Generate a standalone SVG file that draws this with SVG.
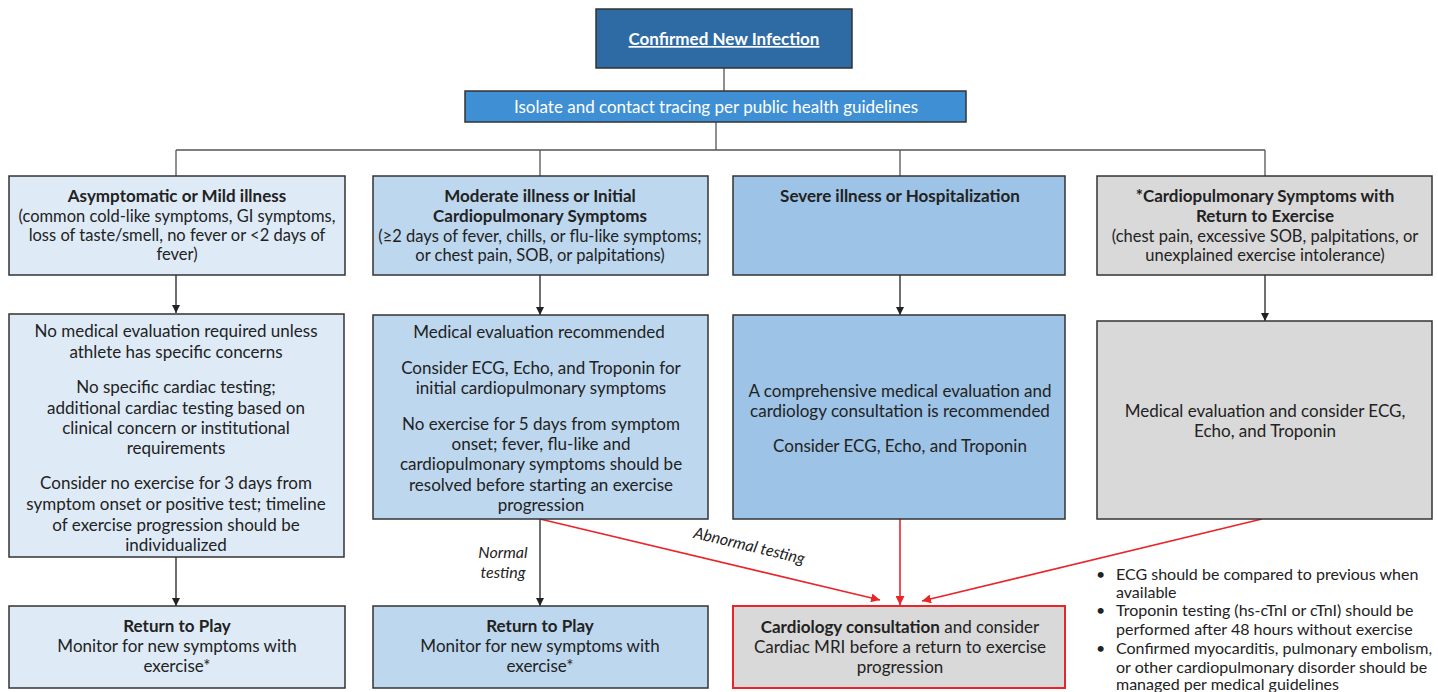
<svg xmlns="http://www.w3.org/2000/svg" width="1438" height="692" viewBox="0 0 1438 692">
<defs>
<marker id="ab" viewBox="0 0 10 10" refX="10" refY="5" markerWidth="8" markerHeight="8" markerUnits="userSpaceOnUse" orient="auto"><path d="M0,0 L10,5 L0,10 z" fill="#222"/></marker>
<marker id="ar" viewBox="0 0 10 10" refX="10" refY="5" markerWidth="9" markerHeight="9" markerUnits="userSpaceOnUse" orient="auto"><path d="M0,0 L10,5 L0,10 z" fill="#e8262a"/></marker>
</defs>
<style>
text{font-family:Lato,"Liberation Sans",sans-serif;fill:#222;font-size:17px;text-anchor:middle}
.b{font-weight:bold}
.s{font-size:16.5px}
.box{stroke:#333;stroke-width:1.5}
.l1{fill:#deebf7}.l2{fill:#bdd7ee}.l3{fill:#9dc3e6}.g{fill:#d9d9d9}
.w{fill:#fff}
.bl{text-anchor:start;font-size:16px}
.conn{fill:none;stroke:#555;stroke-width:1.3}
.arr{fill:none;stroke:#222;stroke-width:1.3}
.red{fill:none;stroke:#e8262a;stroke-width:1.6}
.it{font-style:italic;font-size:16px}
</style>
<rect width="1438" height="692" fill="#fff"/>
<g id="connectors">
<path class="conn" d="M724,68 V91 M716,122 V150 M176,150 H1265 M176,150 V176 M540,150 V176 M900,150 V176 M1265,150 V176"/>
<path class="arr" marker-end="url(#ab)" d="M176,275 V313"/>
<path class="arr" marker-end="url(#ab)" d="M540,275 V315"/>
<path class="arr" marker-end="url(#ab)" d="M900,275 V315"/>
<path class="arr" marker-end="url(#ab)" d="M1265,275 V321"/>
<path class="arr" marker-end="url(#ab)" d="M176,557 V606"/>
<path class="arr" marker-end="url(#ab)" d="M540,519 V606"/>
<path class="red" marker-end="url(#ar)" d="M540,519 L880,600"/>
<path class="red" marker-end="url(#ar)" d="M900,519 V605"/>
<path class="red" marker-end="url(#ar)" d="M1262,519 L922,601"/>
<text class="it" x="503" y="558">Normal</text>
<text class="it" x="503" y="578">testing</text>
<text class="it" x="748" y="551" font-size="16.5" transform="rotate(13.4 748 551)">Abnormal testing</text>
</g>
<g id="top">
<rect class="box" x="596" y="9" width="256" height="59" fill="#2e6aa3"/>
<text class="b w" x="724" y="45" text-decoration="underline">Confirmed New Infection</text>
</g>
<g id="isolate">
<rect class="box" x="465" y="91" width="501" height="31" fill="#3f8fd4"/>
<text class="w" x="716" y="113">Isolate and contact tracing per public health guidelines</text>
</g>
<g id="mild">
<rect class="box l1" x="9" y="176" width="336" height="99"/>
<text class="b" x="177" y="202">Asymptomatic or Mild illness</text>
<text class="s" x="177" y="222">(common cold-like symptoms, GI symptoms,</text>
<text class="s" x="177" y="241">loss of taste/smell, no fever or &lt;2 days of</text>
<text class="s" x="177" y="260">fever)</text>
</g>
<g id="moderate">
<rect class="box l2" x="373" y="176" width="335" height="99"/>
<text class="b" x="540" y="202">Moderate illness or Initial</text>
<text class="b" x="540" y="222">Cardiopulmonary Symptoms</text>
<text class="s" x="540" y="242">(≥2 days of fever, chills, or flu-like symptoms;</text>
<text class="s" x="540" y="261">or chest pain, SOB, or palpitations)</text>
</g>
<g id="severe">
<rect class="box l3" x="733" y="176" width="332" height="99"/>
<text class="b" x="900" y="202">Severe illness or Hospitalization</text>
</g>
<g id="cardio">
<rect class="box g" x="1097" y="176" width="335" height="99"/>
<text class="b" x="1265" y="202">*Cardiopulmonary Symptoms with</text>
<text class="b" x="1265" y="222">Return to Exercise</text>
<text class="s" x="1265" y="242">(chest pain, excessive SOB, palpitations, or</text>
<text class="s" x="1265" y="261">unexplained exercise intolerance)</text>
</g>
<g id="mild-eval">
<rect class="box l1" x="9" y="314" width="335" height="243"/>
<text x="176" y="337">No medical evaluation required unless</text>
<text x="176" y="358">athlete has specific concerns</text>
<text x="176" y="393">No specific cardiac testing;</text>
<text x="176" y="414">additional cardiac testing based on</text>
<text x="176" y="434">clinical concern or institutional</text>
<text x="176" y="454">requirements</text>
<text x="176" y="489">Consider no exercise for 3 days from</text>
<text x="176" y="510">symptom onset or positive test; timeline</text>
<text x="176" y="531">of exercise progression should be</text>
<text x="176" y="551">individualized</text>
</g>
<g id="moderate-eval">
<rect class="box l2" x="373" y="315" width="335" height="204"/>
<text x="539" y="338">Medical evaluation recommended</text>
<text x="541" y="374">Consider ECG, Echo, and Troponin for</text>
<text x="541" y="394">initial cardiopulmonary symptoms</text>
<text x="541" y="430">No exercise for 5 days from symptom</text>
<text x="541" y="450">onset; fever, flu-like and</text>
<text x="541" y="470">cardiopulmonary symptoms should be</text>
<text x="541" y="491">resolved before starting an exercise</text>
<text x="541" y="511">progression</text>
</g>
<g id="severe-eval">
<rect class="box l3" x="733" y="315" width="332" height="204"/>
<text x="900" y="397">A comprehensive medical evaluation and</text>
<text x="900" y="417">cardiology consultation is recommended</text>
<text x="900" y="452">Consider ECG, Echo, and Troponin</text>
</g>
<g id="cardio-eval">
<rect class="box g" x="1097" y="321" width="335" height="198"/>
<text x="1265" y="417">Medical evaluation and consider ECG,</text>
<text x="1265" y="437">Echo, and Troponin</text>
</g>
<g id="rtp1">
<rect class="box l1" x="9" y="606" width="336" height="82"/>
<text class="b" x="177" y="632">Return to Play</text>
<text x="177" y="652">Monitor for new symptoms with</text>
<text x="177" y="672">exercise*</text>
</g>
<g id="rtp2">
<rect class="box l2" x="373" y="606" width="335" height="82"/>
<text class="b" x="540" y="632">Return to Play</text>
<text x="540" y="652">Monitor for new symptoms with</text>
<text x="540" y="672">exercise*</text>
</g>
<g id="consult">
<rect x="733" y="606" width="332" height="82" fill="#d9d9d9" stroke="#e8262a" stroke-width="2"/>
<text x="900" y="633"><tspan class="b">Cardiology consultation</tspan> and consider</text>
<text x="900" y="653">Cardiac MRI before a return to exercise</text>
<text x="900" y="673">progression</text>
</g>
<g id="notes">
<text class="bl" x="1096" y="580">•</text>
<text class="bl" x="1116" y="580">ECG should be compared to previous when</text>
<text class="bl" x="1116" y="598">available</text>
<text class="bl" x="1096" y="616">•</text>
<text class="bl" x="1116" y="616">Troponin testing (hs-cTnI or cTnI) should be</text>
<text class="bl" x="1116" y="635">performed after 48 hours without exercise</text>
<text class="bl" x="1096" y="654">•</text>
<text class="bl" x="1116" y="654">Confirmed myocarditis, pulmonary embolism,</text>
<text class="bl" x="1116" y="673">or other cardiopulmonary disorder should be</text>
<text class="bl" x="1116" y="690">managed per medical guidelines</text>
</g>
</svg>
